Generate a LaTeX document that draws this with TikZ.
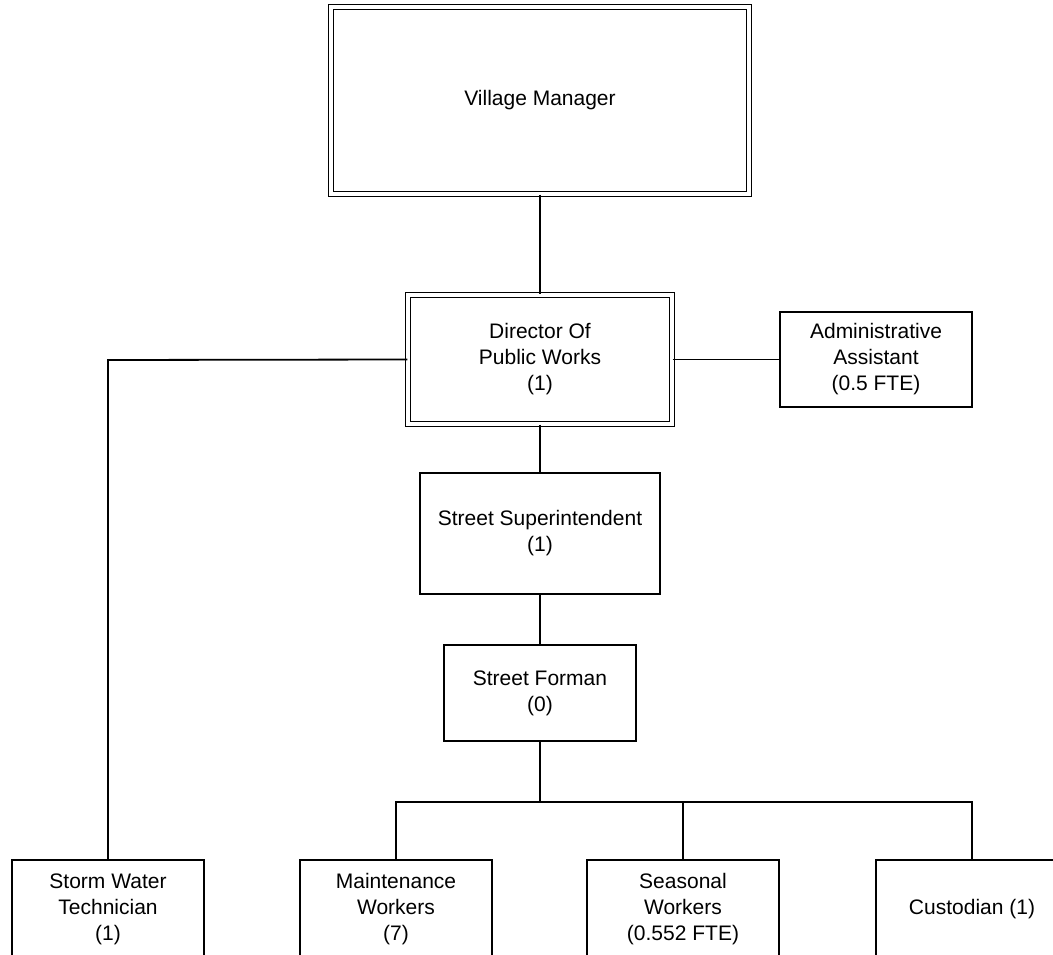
\documentclass[tikz,border=0pt]{standalone}
\usepackage{fontspec}
\setmainfont{Liberation Sans}
\begin{document}
\begin{tikzpicture}[x=1pt,y=-1pt,
  box/.style={draw, line width=1.8pt, align=center, inner sep=0pt,
    font=\fontsize{21}{26}\selectfont},
  dblbox/.style={draw, double, double distance=3.2pt, line width=1.4pt,
    align=center, inner sep=0pt, font=\fontsize{21}{26}\selectfont},
  conn/.style={line width=1.8pt}]
\path[use as bounding box] (0,0) rectangle (1053,955);
\clip (0,0) rectangle (1053,955);
\fill[white] (0,0) rectangle (1053,955);

\node[dblbox, minimum width=418pt, minimum height=187pt] (vm) at (540,100.5) {Village Manager};
\node[dblbox, minimum width=264pt, minimum height=129pt] (dir) at (540,359.5) {Director Of\\Public Works\\(1)};
\node[box, minimum width=192pt, minimum height=95pt] (adm) at (876,359.5) {Administrative\\Assistant\\(0.5 FTE)};
\node[box, minimum width=240pt, minimum height=121pt] (sup) at (540,533.5) {Street Superintendent\\(1)};
\node[box, minimum width=192pt, minimum height=96pt] (frm) at (540,693) {Street Forman\\(0)};

\node[box, minimum width=192pt, minimum height=98pt] (storm) at (108,909) {Storm Water\\Technician\\(1)};
\node[box, minimum width=192pt, minimum height=98pt] (maint) at (396,909) {Maintenance\\Workers\\(7)};
\node[box, minimum width=192pt, minimum height=98pt] (seas) at (683,909) {Seasonal\\Workers\\(0.552 FTE)};
\node[box, minimum width=192pt, minimum height=98pt] (cust) at (972,909) {Custodian (1)};

\coordinate (sw) at (108,360);
\coordinate (bus) at (540,802);

\draw[conn] (vm.south) -- (dir.north);
\draw[conn] (dir.east) -- (adm.west);
\draw[conn] (dir.west) -- (sw) -- (storm.north);
\draw[conn] (dir.south) -- (sup.north);
\draw[conn] (sup.south) -- (frm.north);
\draw[conn] (frm.south) -- (bus);
\draw[conn] (maint.north) -- (maint.north |- bus) -- (cust.north |- bus) -- (cust.north);
\draw[conn] (seas.north) -- (seas.north |- bus);
\end{tikzpicture}
\end{document}
